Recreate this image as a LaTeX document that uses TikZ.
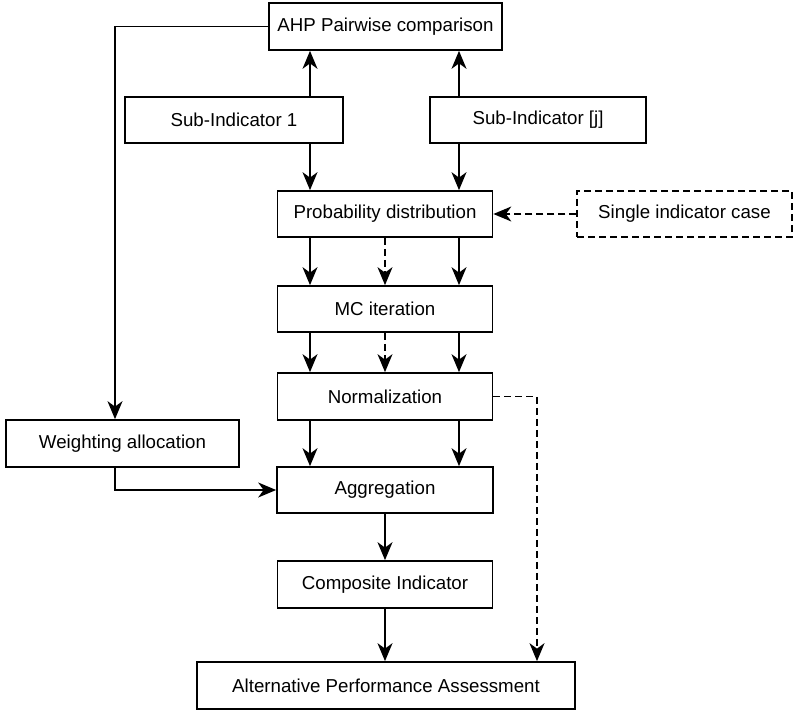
\documentclass[tikz,border=0pt]{standalone}
\usepackage{fontspec}
\setmainfont{Liberation Sans}
\usetikzlibrary{arrows.meta}
\begin{document}
\begin{tikzpicture}[x=1pt,y=-1pt,
  box/.style={draw=black, line width=1.7pt, fill=white, inner sep=0pt,
    font=\fontsize{18.7}{22}\selectfont, text=black},
  dbox/.style={box, line width=1.5pt, dash pattern=on 7pt off 4pt},
  arr/.style={line width=1.7pt, -{Stealth[length=18pt,width=15pt,inset=5.5pt]}},
  darr/.style={arr, line width=1.4pt, dash pattern=on 7pt off 4pt}]
\useasboundingbox (0,0) rectangle (799,711);
\node[box, minimum width=233pt, minimum height=47pt] (ahp) at (385.5,26.5) {AHP Pairwise comparison};
\node[box, minimum width=218pt, minimum height=46pt] (s1) at (234,120) {Sub-Indicator 1};
\node[box, minimum width=216pt, minimum height=46pt] (sj) at (538,120) {Sub-Indicator [j]};
\node[box, minimum width=215pt, minimum height=46pt] (prob) at (385,214) {Probability distribution};
\node[dbox, minimum width=215pt, minimum height=46pt] (single) at (684.5,214) {Single indicator case};
\node[box, minimum width=215pt, minimum height=46pt] (mc) at (385,309) {MC iteration};
\node[box, minimum width=215pt, minimum height=47pt] (norm) at (385,396.5) {Normalization};
\node[box, minimum width=233pt, minimum height=47pt] (weight) at (122.5,443.5) {Weighting allocation};
\node[box, minimum width=216pt, minimum height=46pt] (agg) at (385,490) {Aggregation};
\node[box, minimum width=215pt, minimum height=47pt] (comp) at (385,584.5) {Composite Indicator};
\node[box, minimum width=378pt, minimum height=47pt] (alt) at (386,685.5) {Alternative Performance Assessment};
\coordinate (cA) at (310,0);
\coordinate (cB) at (385,0);
\coordinate (cC) at (459,0);
\coordinate (cD) at (537,0);
\coordinate (cW) at (115,0);
% sub-indicators up to AHP
\draw[arr] (s1.north -| cA) -- (ahp.south -| cA);
\draw[arr] (sj.north -| cC) -- (ahp.south -| cC);
% sub-indicators down to probability distribution
\draw[arr] (s1.south -| cA) -- (prob.north -| cA);
\draw[arr] (sj.south -| cC) -- (prob.north -| cC);
% single indicator case
\draw[darr] (single.west) -- (prob.east);
% prob to MC
\draw[arr] (prob.south -| cA) -- (mc.north -| cA);
\draw[darr] (prob.south -| cB) -- (mc.north -| cB);
\draw[arr] (prob.south -| cC) -- (mc.north -| cC);
% MC to normalization
\draw[arr] (mc.south -| cA) -- (norm.north -| cA);
\draw[darr] (mc.south -| cB) -- (norm.north -| cB);
\draw[arr] (mc.south -| cC) -- (norm.north -| cC);
% normalization to aggregation
\draw[arr] (norm.south -| cA) -- (agg.north -| cA);
\draw[arr] (norm.south -| cC) -- (agg.north -| cC);
% normalization dashed to alternative
\draw[darr] (norm.east) -| (alt.north -| cD);
% AHP to weighting
\draw[arr] (ahp.west) -| (weight.north -| cW);
% weighting to aggregation
\draw[arr] (weight.south -| cW) |- (agg.west);
% aggregation to composite to alternative
\draw[arr] (agg.south -| cB) -- (comp.north -| cB);
\draw[arr] (comp.south -| cB) -- (alt.north -| cB);
\end{tikzpicture}
\end{document}
